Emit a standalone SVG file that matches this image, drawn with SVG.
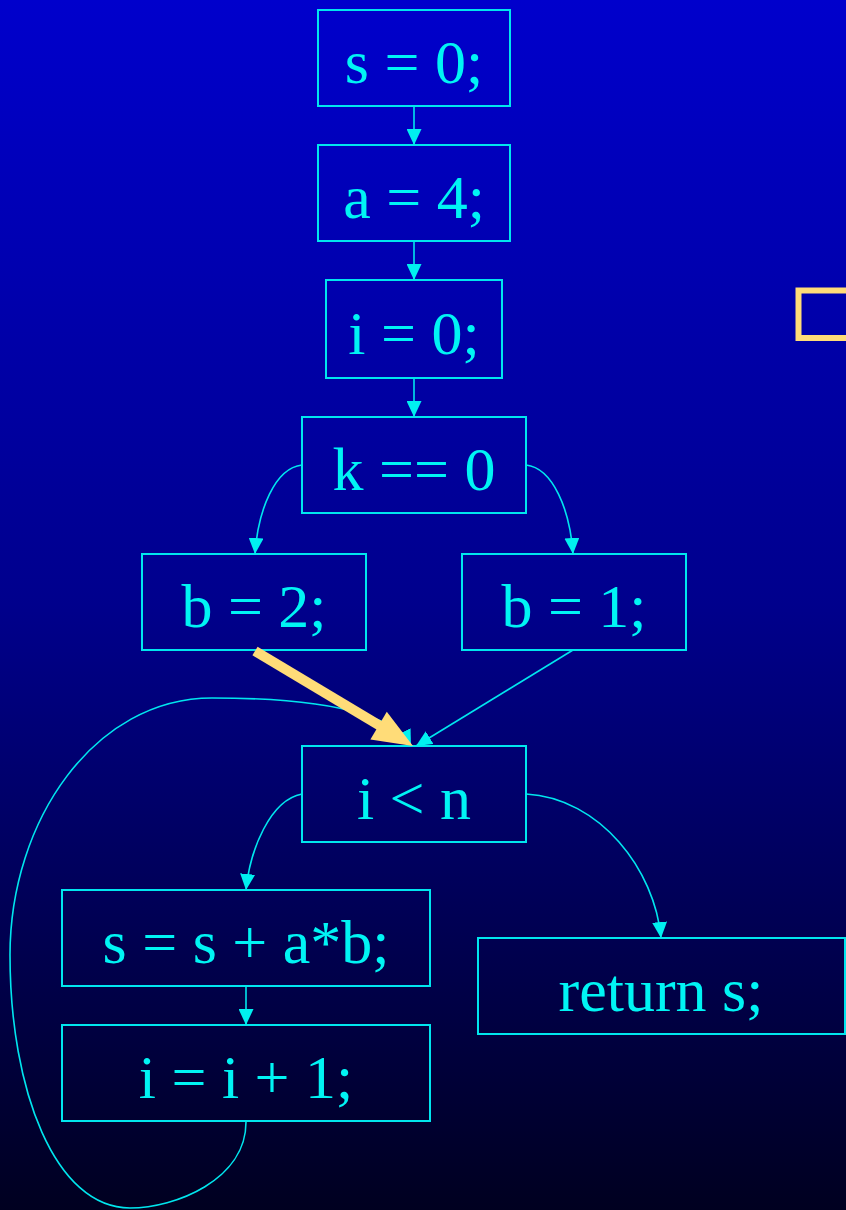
<svg xmlns="http://www.w3.org/2000/svg" width="846" height="1210" viewBox="0 0 846 1210">
<defs>
<linearGradient id="bg" x1="0" y1="0" x2="0" y2="1">
<stop offset="0" stop-color="#0000CC"/>
<stop offset="0.5" stop-color="#00008C"/>
<stop offset="1" stop-color="#000020"/>
</linearGradient>
<marker id="ah" markerUnits="userSpaceOnUse" markerWidth="16" markerHeight="15" refX="16" refY="7.5" orient="auto">
<path d="M0,0 L16,7.5 L0,15 z" fill="#00F0F0"/>
</marker>
<style>
.box{fill:none;stroke:#00E6EE;stroke-width:2}
.lbl{font-family:"Liberation Serif","Times New Roman",serif;font-size:62px;fill:#00F4F4;text-anchor:middle}
.edge{fill:none;stroke:#00E6EE;stroke-width:1.6;marker-end:url(#ah)}
</style>
</defs>
<rect x="0" y="0" width="846" height="1210" fill="url(#bg)"/>
<rect x="798.5" y="290.5" width="60" height="47.5" fill="none" stroke="#FFDC78" stroke-width="6"/>

<g id="n1"><rect class="box" x="318" y="10" width="192" height="96"/><text class="lbl" x="414" y="83">s = 0;</text></g>
<g id="n2"><rect class="box" x="318" y="145" width="192" height="96"/><text class="lbl" x="414" y="218">a = 4;</text></g>
<g id="n3"><rect class="box" x="326" y="280" width="176" height="98"/><text class="lbl" x="414" y="354">i = 0;</text></g>
<g id="n4"><rect class="box" x="302" y="417" width="224" height="96"/><text class="lbl" x="414" y="490">k == 0</text></g>
<g id="n5"><rect class="box" x="142" y="554" width="224" height="96"/><text class="lbl" x="254" y="627">b = 2;</text></g>
<g id="n6"><rect class="box" x="462" y="554" width="224" height="96"/><text class="lbl" x="574" y="627">b = 1;</text></g>
<g id="n7"><rect class="box" x="302" y="746" width="224" height="96"/><text class="lbl" x="414" y="819">i &lt; n</text></g>
<g id="n8"><rect class="box" x="62" y="890" width="368" height="96"/><text class="lbl" x="246" y="963">s = s + a*b;</text></g>
<g id="n9"><rect class="box" x="62" y="1025" width="368" height="96"/><text class="lbl" x="246" y="1098">i = i + 1;</text></g>
<g id="n10"><rect class="box" x="478" y="938" width="367" height="96"/><text class="lbl" x="661" y="1011">return s;</text></g>

<g id="connectors">
<path class="edge" d="M414,106 L414,145"/>
<path class="edge" d="M414,241 L414,280"/>
<path class="edge" d="M414,378 L414,417"/>
<path class="edge" d="M302,465 C275,468 258,510 255,554"/>
<path class="edge" d="M526,465 C553,468 570,510 573,554"/>
<path class="edge" d="M573,650 L416,746"/>
<path class="edge" d="M246,1122 C246,1180 175,1208 130,1208 C55,1208 10,1090 10,955 C10,820 95,698 212,698 C280,698 330,704 362,714 C390,723 404,732 411,746"/>
<path class="edge" d="M302,794 C270,800 250,850 246,890"/>
<path class="edge" d="M526,794 C600,798 655,870 661,938"/>
<path class="edge" d="M246,986 L246,1025"/>
<g id="highlight">
<line x1="255" y1="651" x2="382" y2="727" stroke="#FFDC78" stroke-width="10"/>
<polygon points="413,746 370.4,739.4 386.8,711.8" fill="#FFDC78"/>
</g>
</g>
</svg>
